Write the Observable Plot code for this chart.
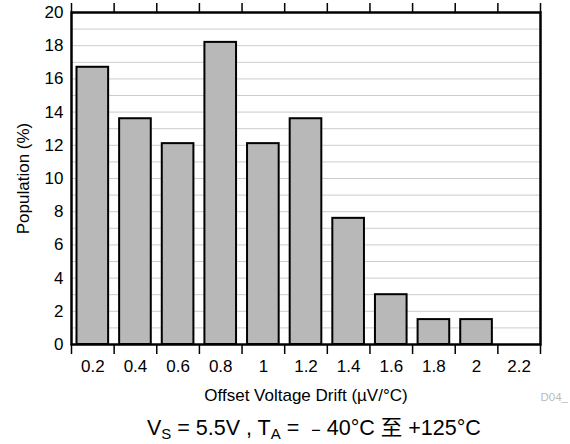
<!DOCTYPE html>
<html>
<head>
<meta charset="utf-8">
<script src="https://cdn.jsdelivr.net/npm/d3@7"></script>
<script src="https://cdn.jsdelivr.net/npm/@observablehq/plot@0.6"></script>
<style>
  body { margin: 0; background: #fff; font-family: "Liberation Sans", Arial, "Noto Sans CJK SC", sans-serif; }
  #caption { font-size: 21.5px; line-height: 24px; margin-top: 8px; padding-left: 147px; white-space: nowrap; color: #000; }
  #caption sub { font-size: 15px; line-height: 0; vertical-align: -4px; }
</style>
</head>
<body>
<div id="chart"></div>
<div id="caption">V<sub>S</sub> = 5.5V , T<sub>A</sub> = ﹣40°C 至 +125°C</div>
<script>
const drift = [0.2, 0.4, 0.6, 0.8, 1.0, 1.2, 1.4, 1.6, 1.8, 2.0, 2.2];
const population = [16.7, 13.6, 12.1, 18.2, 12.1, 13.6, 7.6, 3.0, 1.5, 1.5, 0];
const binWidth = 0.2;
const yTicks = [0, 2, 4, 6, 8, 10, 12, 14, 16, 18, 20];
const xLabel = "Offset Voltage Drift (µV/°C)";
const yLabel = "Population (%)";
const figId = "D04_";

const W = 570, H = 408, mT = 12, mB = 64;
const frameH = H - mT - mB;

const data = drift.map((d, i) => ({ x1: d - binWidth / 2, x2: d + binWidth / 2, y: population[i] }));
const edges = [drift[0] - binWidth / 2, ...drift.map(d => d + binWidth / 2)].map(v => Math.round(v * 1000) / 1000);

const chart = Plot.plot({
  width: W,
  height: H,
  marginLeft: 71,
  marginRight: 30,
  marginTop: mT,
  marginBottom: mB,
  style: { fontFamily: '"Liberation Sans", Arial, sans-serif', fontSize: "17px", background: "#fff" },
  x: { domain: [edges[0], edges[edges.length - 1]] },
  y: { domain: [0, 20] },
  marks: [
    Plot.gridY(d3.range(0, 21, 1), { stroke: "#cccccc", strokeOpacity: 1, strokeWidth: 1 }),
    Plot.rectY(data.filter(d => d.y > 0), { x1: "x1", x2: "x2", y: "y", fill: "#b8b8b8", stroke: "#000", strokeWidth: 2, insetLeft: 5.5, insetRight: 5.5 }),
    Plot.ruleX(edges, { insetTop: frameH, insetBottom: -10, stroke: "#000", strokeWidth: 1.5 }),
    Plot.ruleX(edges, { insetTop: -9, insetBottom: frameH, stroke: "#000", strokeWidth: 1.5 }),
    Plot.frame({ stroke: "#000", strokeWidth: 2.5 }),
    Plot.axisY(yTicks, { tickSize: 0, tickPadding: 8, label: yLabel, labelAnchor: "center", labelArrow: "none", labelOffset: 55, fontSize: 17 }),
    Plot.axisX(drift, { tickSize: 0, tickPadding: 15, tickFormat: d => String(+d.toFixed(1)), label: null, fontSize: 17 }),
    Plot.text([xLabel], { frameAnchor: "bottom", dy: 56, text: d => d, fontSize: 17 }),
    Plot.text([figId], { frameAnchor: "bottom-right", dy: 56, dx: 0, textAnchor: "start", text: d => d, fontSize: 11.5, fill: "#bbbbbb" })
  ]
});
document.getElementById("chart").appendChild(chart);
</script>
</body>
</html>
